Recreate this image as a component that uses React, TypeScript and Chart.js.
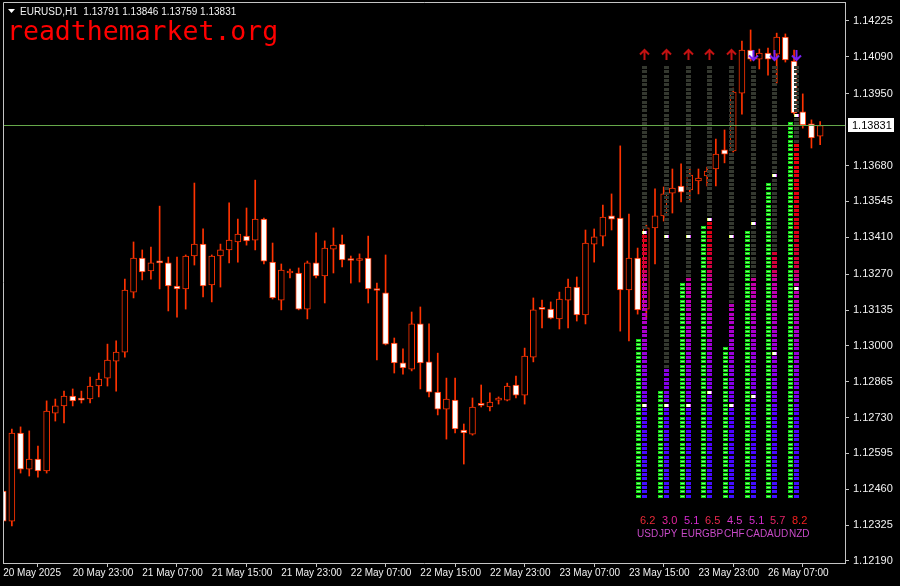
import React, { useEffect, useRef } from 'react';
import { Chart, registerables } from 'chart.js';

Chart.register(...registerables);

// ---------------- data ----------------
const symbol = 'EURUSD,H1';
const watermark = 'readthemarket.org';

const opens = [
  1.12453, 1.12340, 1.12672, 1.12536, 1.12574, 1.12529, 1.12747, 1.12774, 1.12811, 1.12800,
  1.12800, 1.12849, 1.12879, 1.12943, 1.12977, 1.13203, 1.13331, 1.13283, 1.13316, 1.13313,
  1.13226, 1.13215, 1.13339, 1.13384, 1.13230, 1.13339, 1.13362, 1.13392, 1.13414, 1.13399,
  1.13478, 1.13316, 1.13173, 1.13275, 1.13275, 1.13139, 1.13313, 1.13264, 1.13365, 1.13384,
  1.13324, 1.13322, 1.13331, 1.13211, 1.13200, 1.13011, 1.12936, 1.12913, 1.13083, 1.12940,
  1.12826, 1.12762, 1.12796, 1.12683, 1.12668, 1.12778, 1.12770, 1.12796, 1.12796, 1.12853,
  1.12815, 1.12958, 1.13139, 1.13139, 1.13102, 1.13173, 1.13222, 1.13117, 1.13384, 1.13414,
  1.13490, 1.13482, 1.13211, 1.13331, 1.13139, 1.13445, 1.13490, 1.13576, 1.13603, 1.13588,
  1.13622, 1.13641, 1.13667, 1.13739, 1.13735, 1.13953, 1.14115, 1.14081, 1.14104, 1.14100,
  1.14164, 1.14074, 1.13882, 1.13837, 1.13791,
];
const highs = [
  1.12472, 1.12687, 1.12695, 1.12680, 1.12623, 1.12793, 1.12800, 1.12830, 1.12838, 1.12830,
  1.12883, 1.12898, 1.13007, 1.13019, 1.13252, 1.13392, 1.13362, 1.13373, 1.13527, 1.13335,
  1.13335, 1.13343, 1.13614, 1.13441, 1.13343, 1.13384, 1.13539, 1.13478, 1.13520, 1.13625,
  1.13482, 1.13388, 1.13309, 1.13290, 1.13294, 1.13320, 1.13426, 1.13396, 1.13445, 1.13418,
  1.13339, 1.13347, 1.13414, 1.13237, 1.13343, 1.13030, 1.12989, 1.13128, 1.13147, 1.13083,
  1.12973, 1.12879, 1.12879, 1.12706, 1.12804, 1.12853, 1.12823, 1.12808, 1.12860, 1.12887,
  1.12992, 1.13181, 1.13173, 1.13166, 1.13203, 1.13252, 1.13260, 1.13437, 1.13441, 1.13531,
  1.13573, 1.13754, 1.13497, 1.13369, 1.13456, 1.13592, 1.13599, 1.13667, 1.13686, 1.13671,
  1.13667, 1.13674, 1.13780, 1.13814, 1.13972, 1.14149, 1.14191, 1.14119, 1.14123, 1.14179,
  1.14176, 1.14115, 1.13950, 1.13852, 1.13846,
];
const lows = [
  1.12235, 1.12322, 1.12521, 1.12510, 1.12506, 1.12521, 1.12717, 1.12710, 1.12774, 1.12785,
  1.12785, 1.12808, 1.12849, 1.12830, 1.12958, 1.13181, 1.13249, 1.13252, 1.13215, 1.13132,
  1.13109, 1.13139, 1.13305, 1.13185, 1.13166, 1.13222, 1.13313, 1.13316, 1.13380, 1.13362,
  1.13309, 1.13177, 1.13136, 1.13256, 1.13136, 1.13102, 1.13256, 1.13162, 1.13275, 1.13298,
  1.13237, 1.13241, 1.13162, 1.12947, 1.13004, 1.12898, 1.12894, 1.12906, 1.12838, 1.12808,
  1.12740, 1.12649, 1.12672, 1.12555, 1.12664, 1.12770, 1.12755, 1.12781, 1.12793, 1.12804,
  1.12781, 1.12940, 1.13068, 1.13102, 1.13064, 1.13068, 1.13094, 1.13083, 1.13316, 1.13377,
  1.13437, 1.13056, 1.13019, 1.13120, 1.13102, 1.13309, 1.13471, 1.13501, 1.13543, 1.13543,
  1.13573, 1.13603, 1.13603, 1.13690, 1.13731, 1.13874, 1.14074, 1.14044, 1.14021, 1.13991,
  1.14070, 1.13874, 1.13821, 1.13746, 1.13759,
];
const closes = [
  1.12340, 1.12672, 1.12536, 1.12574, 1.12529, 1.12755, 1.12774, 1.12811, 1.12793, 1.12796,
  1.12849, 1.12875, 1.12947, 1.12977, 1.13211, 1.13331, 1.13279, 1.13313, 1.13313, 1.13226,
  1.13215, 1.13339, 1.13384, 1.13226, 1.13339, 1.13362, 1.13399, 1.13422, 1.13396, 1.13478,
  1.13320, 1.13181, 1.13286, 1.13277, 1.13139, 1.13313, 1.13264, 1.13369, 1.13380, 1.13324,
  1.13322, 1.13324, 1.13215, 1.13209, 1.13007, 1.12936, 1.12917, 1.13083, 1.12936, 1.12826,
  1.12762, 1.12800, 1.12687, 1.12672, 1.12770, 1.12776, 1.12789, 1.12797, 1.12849, 1.12815,
  1.12962, 1.13136, 1.13138, 1.13105, 1.13177, 1.13222, 1.13117, 1.13388, 1.13411, 1.13486,
  1.13478, 1.13211, 1.13331, 1.13136, 1.13445, 1.13490, 1.13573, 1.13595, 1.13580, 1.13644,
  1.13633, 1.13659, 1.13723, 1.13723, 1.13957, 1.14115, 1.14081, 1.14104, 1.14081, 1.14164,
  1.14078, 1.13878, 1.13833, 1.13784, 1.13831,
];

const tickBars = [0, 8, 16, 24, 32, 40, 48, 56, 64, 72, 80, 88];
const tickLabels = [
  '20 May 2025', '20 May 23:00', '21 May 07:00', '21 May 15:00', '21 May 23:00', '22 May 07:00',
  '22 May 15:00', '22 May 23:00', '23 May 07:00', '23 May 15:00', '23 May 23:00', '26 May 07:00',
];
const priceTicks = [
  1.14225, 1.14090, 1.13950, 1.13680, 1.13545, 1.13410, 1.13270, 1.13135,
  1.13000, 1.12865, 1.12730, 1.12595, 1.12460, 1.12325, 1.12190,
];

const currencies = ['USD', 'JPY', 'EUR', 'GBP', 'CHF', 'CAD', 'AUD', 'NZD'];
const strength = [6.2, 3.0, 5.1, 6.5, 4.5, 5.1, 5.7, 8.2];
const greenLevels = [3.7, 2.5, 5.0, 6.3, 3.5, 6.2, 7.3, 8.7];
const markerHigh = [6.1, 6.0, 6.0, 6.4, 6.0, 6.3, 7.4, 8.8];
const markerLow = [2.1, 2.1, 2.1, 2.4, 2.1, 2.3, 3.3, 4.8];
const trend = [1, 1, 1, 1, 1, -1, -1, -1];

// ---------------- styles ----------------
const CANDLE = '#ff3300';
const AXIS = '#c4c4c4';
const TEXT = '#f2f2f2';
const SANS = '"Liberation Sans", Arial, sans-serif';
const valueColors = ['#ea2a36', '#e6249e', '#d62ad2', '#e8284e', '#dc36cc', '#d62ad2', '#e62468', '#f42020'];

const stops: [number, number[]][] = [
  [0, [64, 16, 255]],
  [1.9, [80, 0, 255]],
  [2.4, [124, 0, 240]],
  [3.3, [150, 0, 220]],
  [4.2, [180, 0, 196]],
  [5.0, [196, 0, 170]],
  [5.35, [210, 0, 64]],
  [6.2, [222, 0, 20]],
  [10, [255, 0, 0]],
];
function colorAt(v: number) {
  for (let i = 1; i < stops.length; i++) {
    if (v <= stops[i][0]) {
      const [a, ca] = stops[i - 1];
      const [b, cb] = stops[i];
      const t = (v - a) / (b - a);
      const c = ca.map((x, j) => Math.round(x + (cb[j] - x) * t));
      return `rgb(${c[0]},${c[1]},${c[2]})`;
    }
  }
  return 'rgb(255,0,0)';
}

const fmt = (v: number) => v.toFixed(5);
const last = closes.length - 1;

const overlayPlugin = {
  id: 'overlay',
  afterDatasetsDraw(chart: any) {
    const ctx: CanvasRenderingContext2D = chart.ctx;
    const ca = chart.chartArea;
    const y = chart.scales.y;
    const xm = chart.scales.xm;
    const ym = chart.scales.ym;
    ctx.save();

    // frame (left, top)
    ctx.strokeStyle = AXIS;
    ctx.lineWidth = 1;
    ctx.beginPath();
    ctx.moveTo(ca.left + 0.5, ca.bottom);
    ctx.lineTo(ca.left + 0.5, ca.top + 0.5);
    ctx.lineTo(ca.right, ca.top + 0.5);
    ctx.stroke();

    // bid line
    const py = Math.round(y.getPixelForValue(closes[last])) + 0.5;
    ctx.strokeStyle = '#66a84a';
    ctx.beginPath();
    ctx.moveTo(ca.left + 1, py);
    ctx.lineTo(ca.right, py);
    ctx.stroke();

    // strength meter
    const rightOff = 6 / 21.67;
    for (let i = 0; i < currencies.length; i++) {
      const gx = Math.round(xm.getPixelForValue(i));
      const rx = Math.round(xm.getPixelForValue(i + rightOff));
      for (let s = 0; s < 100; s++) {
        const lv = s / 10;
        const yb = ym.getPixelForValue(lv);
        const yt = ym.getPixelForValue(lv + 0.1);
        const ty = Math.round(yt);
        const h = Math.max(1, Math.round((yb - yt) * 0.72));
        if (lv < greenLevels[i] - 1e-6) {
          ctx.fillStyle = '#12de12';
          ctx.fillRect(gx - 2, ty, 5, h);
          ctx.fillStyle = '#7cff7c';
          ctx.fillRect(gx - 1, ty + 1, 3, 1);
        }
        ctx.fillStyle = lv < strength[i] - 1e-6 ? colorAt(lv + 0.05) : '#34382f';
        ctx.fillRect(rx - 2, ty, 5, h);
      }
      for (const m of [markerLow[i], markerHigh[i]]) {
        const ty = Math.round(ym.getPixelForValue(m + 0.1));
        ctx.fillStyle = '#d8ff60';
        ctx.fillRect(rx - 2, ty, 1, 3);
        ctx.fillStyle = '#ffffff';
        ctx.fillRect(rx - 1, ty, 3, 3);
        ctx.fillStyle = '#e060ff';
        ctx.fillRect(rx + 2, ty, 1, 3);
      }
      // arrows
      const ay = Math.round(ym.getPixelForValue(10)) - 11;
      const ax = rx + 0.5;
      ctx.lineWidth = 2;
      ctx.lineCap = 'butt';
      if (trend[i] > 0) {
        ctx.strokeStyle = '#c41212';
        ctx.beginPath();
        ctx.moveTo(ax, ay + 5);
        ctx.lineTo(ax, ay - 5);
        ctx.moveTo(ax - 4.5, ay - 0.5);
        ctx.lineTo(ax, ay - 5);
        ctx.lineTo(ax + 4.5, ay - 0.5);
        ctx.stroke();
      } else {
        ctx.strokeStyle = '#7a22f2';
        ctx.beginPath();
        ctx.moveTo(ax, ay - 5);
        ctx.lineTo(ax, ay + 5);
        ctx.moveTo(ax - 4.5, ay + 0.5);
        ctx.lineTo(ax, ay + 5);
        ctx.lineTo(ax + 4.5, ay + 0.5);
        ctx.stroke();
      }
      // texts
      const base = ym.getPixelForValue(0);
      ctx.textBaseline = 'middle';
      ctx.textAlign = 'left';
      ctx.font = `11px ${SANS}`;
      ctx.fillStyle = valueColors[i];
      ctx.fillText(strength[i].toFixed(1), gx + 2, base + 22);
      ctx.font = `10px ${SANS}`;
      ctx.fillStyle = '#c84ac8';
      ctx.fillText(currencies[i], gx - 1, base + 35);
    }

    // header
    ctx.fillStyle = '#ffffff';
    ctx.beginPath();
    ctx.moveTo(8, 9);
    ctx.lineTo(15, 9);
    ctx.lineTo(11.5, 13);
    ctx.closePath();
    ctx.fill();
    ctx.font = `10px ${SANS}`;
    ctx.fillStyle = TEXT;
    ctx.textBaseline = 'middle';
    ctx.textAlign = 'left';
    ctx.fillText(
      `${symbol}  ${fmt(opens[last])} ${fmt(highs[last])} ${fmt(lows[last])} ${fmt(closes[last])}`,
      20, 12,
    );

    // watermark
    ctx.font = '26.5px "DejaVu Sans Mono", "Liberation Mono", monospace';
    ctx.fillStyle = '#ff0000';
    ctx.textBaseline = 'alphabetic';
    ctx.fillText(watermark, 7, 40);

    // price label on axis
    const lx = ca.right + 3;
    ctx.fillStyle = '#ffffff';
    ctx.fillRect(lx, py - 7.5, 46, 14);
    ctx.fillStyle = '#000000';
    ctx.font = `11px ${SANS}`;
    ctx.textBaseline = 'middle';
    ctx.fillText(fmt(closes[last]), lx + 4, py);

    ctx.restore();
  },
};

export default function App() {
  const ref = useRef<HTMLCanvasElement>(null);
  useEffect(() => {
    document.body.style.margin = '0';
    document.body.style.background = '#000';
    const bodies = opens.map((o, i) => ({ x: i, y: [o, closes[i]] }));
    const wicks = lows.map((l, i) => ({ x: i, y: [l, highs[i]] }));
    const chart = new Chart(ref.current as HTMLCanvasElement, {
      type: 'bar',
      data: {
        datasets: [
          {
            data: bodies as any,
            backgroundColor: opens.map((o, i) => (closes[i] >= o ? '#000000' : '#ffffff')),
            borderColor: CANDLE,
            borderWidth: 1,
            borderSkipped: false,
            grouped: false,
            categoryPercentage: 1,
            barPercentage: 1,
            maxBarThickness: 6,
            minBarLength: 2,
            xAxisID: 'x',
            yAxisID: 'y',
          } as any,
          {
            data: wicks as any,
            backgroundColor: CANDLE,
            borderWidth: 0,
            grouped: false,
            categoryPercentage: 1,
            barPercentage: 1,
            maxBarThickness: 1,
            xAxisID: 'x',
            yAxisID: 'y',
          } as any,
        ],
      },
      options: {
        animation: false,
        responsive: false,
        maintainAspectRatio: false,
        devicePixelRatio: 1,
        layout: { padding: { left: 3, top: 2, right: 0, bottom: 0 } },
        plugins: { legend: { display: false }, tooltip: { enabled: false }, title: { display: false } },
        scales: {
          x: {
            type: 'linear',
            position: 'bottom',
            min: -0.02,
            max: 96.86,
            offset: false,
            afterBuildTicks: (s: any) => {
              s.ticks = tickBars.map((v) => ({ value: v }));
            },
            afterFit: (s: any) => {
              s.height = 23;
              s.paddingLeft = 0;
              s.paddingRight = 0;
            },
            ticks: {
              autoSkip: false,
              maxRotation: 0,
              minRotation: 0,
              align: 'start',
              padding: 0,
              color: TEXT,
              font: { family: SANS, size: 10 },
              callback: (v: any) => {
                const j = tickBars.indexOf(Number(v));
                return j >= 0 ? tickLabels[j] : '';
              },
            },
            grid: { display: true, drawOnChartArea: false, drawTicks: true, tickLength: 4, color: AXIS },
            border: { display: true, color: AXIS },
          },
          y: {
            type: 'linear',
            position: 'right',
            min: 1.121821,
            max: 1.142963,
            afterBuildTicks: (s: any) => {
              s.ticks = priceTicks.map((v) => ({ value: v }));
            },
            afterFit: (s: any) => {
              s.width = 55;
              s.paddingTop = 0;
              s.paddingBottom = 0;
            },
            ticks: {
              autoSkip: false,
              padding: 4,
              color: TEXT,
              font: { family: SANS, size: 11 },
              callback: (v: any) => Number(v).toFixed(5),
            },
            grid: { display: true, drawOnChartArea: false, drawTicks: true, tickLength: 4, color: AXIS },
            border: { display: true, color: AXIS },
          },
          xm: { type: 'linear', display: false, offset: false, min: -29.317, max: 9.539 },
          ym: { type: 'linear', display: false, offset: false, min: -1.478, max: 11.478 },
        },
      } as any,
      plugins: [overlayPlugin],
    });
    return () => chart.destroy();
  }, []);
  return (
    <div style={{ width: 900, height: 586, background: '#000' }}>
      <canvas ref={ref} width={900} height={586} style={{ display: 'block' }} />
    </div>
  );
}
